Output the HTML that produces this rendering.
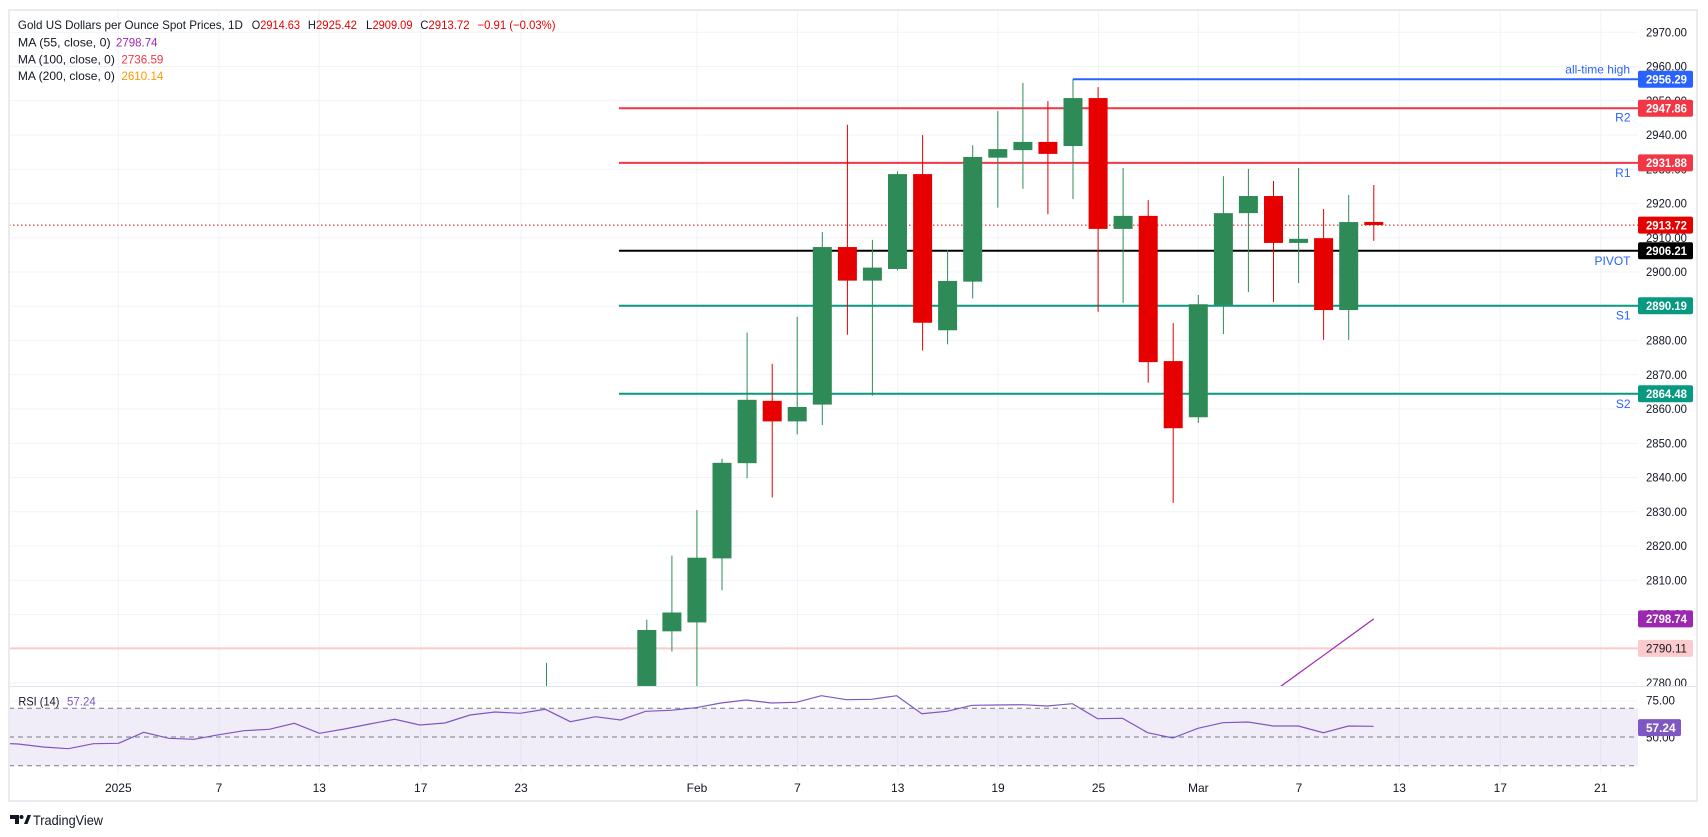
<!DOCTYPE html>
<html>
<head>
<meta charset="utf-8">
<style>
html,body{margin:0;padding:0;background:#fff;}
svg{display:block;font-family:"Liberation Sans",Arial,sans-serif;}
</style>
</head>
<body>
<svg width="1708" height="837" viewBox="0 0 1708 837" xmlns="http://www.w3.org/2000/svg">
<defs>
<clipPath id="main"><rect x="9" y="10" width="1629" height="676"/></clipPath>
<clipPath id="rsi"><rect x="9" y="687" width="1629" height="86"/></clipPath>
<clipPath id="paxis"><rect x="1638" y="10" width="60" height="676"/></clipPath>
</defs>
<rect x="0" y="0" width="1708" height="837" fill="#fff"/>

<!-- vertical gridlines -->
<g stroke="#f0f3fa" stroke-width="1">
<line x1="118.3" y1="11" x2="118.3" y2="773"/>
<line x1="219" y1="11" x2="219" y2="773"/>
<line x1="319.3" y1="11" x2="319.3" y2="773"/>
<line x1="420.7" y1="11" x2="420.7" y2="773"/>
<line x1="521" y1="11" x2="521" y2="773"/>
<line x1="697" y1="11" x2="697" y2="773"/>
<line x1="797.5" y1="11" x2="797.5" y2="773"/>
<line x1="897.7" y1="11" x2="897.7" y2="773"/>
<line x1="998" y1="11" x2="998" y2="773"/>
<line x1="1098.5" y1="11" x2="1098.5" y2="773"/>
<line x1="1198.3" y1="11" x2="1198.3" y2="773"/>
<line x1="1299" y1="11" x2="1299" y2="773"/>
<line x1="1399.3" y1="11" x2="1399.3" y2="773"/>
<line x1="1500.3" y1="11" x2="1500.3" y2="773"/>
<line x1="1600.7" y1="11" x2="1600.7" y2="773"/>
</g>
<!-- horizontal gridlines main -->
<g stroke="#f0f3fa" stroke-width="1">
<line x1="9" y1="32.3" x2="1638" y2="32.3"/>
<line x1="9" y1="66.55" x2="1638" y2="66.55"/>
<line x1="9" y1="100.8" x2="1638" y2="100.8"/>
<line x1="9" y1="135.05" x2="1638" y2="135.05"/>
<line x1="9" y1="169.3" x2="1638" y2="169.3"/>
<line x1="9" y1="203.55" x2="1638" y2="203.55"/>
<line x1="9" y1="237.8" x2="1638" y2="237.8"/>
<line x1="9" y1="272.05" x2="1638" y2="272.05"/>
<line x1="9" y1="306.3" x2="1638" y2="306.3"/>
<line x1="9" y1="340.55" x2="1638" y2="340.55"/>
<line x1="9" y1="374.8" x2="1638" y2="374.8"/>
<line x1="9" y1="409.05" x2="1638" y2="409.05"/>
<line x1="9" y1="443.3" x2="1638" y2="443.3"/>
<line x1="9" y1="477.55" x2="1638" y2="477.55"/>
<line x1="9" y1="511.8" x2="1638" y2="511.8"/>
<line x1="9" y1="546.05" x2="1638" y2="546.05"/>
<line x1="9" y1="580.3" x2="1638" y2="580.3"/>
<line x1="9" y1="614.55" x2="1638" y2="614.55"/>
<line x1="9" y1="648.8" x2="1638" y2="648.8"/>
<line x1="9" y1="683.05" x2="1638" y2="683.05"/>
<line x1="9" y1="701.1" x2="1638" y2="701.1"/>
</g>

<!-- main pane content -->
<g clip-path="url(#main)">
  <!-- pink line 2790.11 -->
  <line x1="9" y1="648.4" x2="1638" y2="648.4" stroke="#fccbcd" stroke-width="2"/>
  <!-- pivot levels -->
  <line x1="1073" y1="79.3" x2="1638" y2="79.3" stroke="#2962ff" stroke-width="2"/>
  <line x1="619" y1="108.2" x2="1638" y2="108.2" stroke="#f23645" stroke-width="2"/>
  <line x1="619" y1="162.9" x2="1638" y2="162.9" stroke="#f23645" stroke-width="2"/>
  <line x1="619" y1="250.8" x2="1638" y2="250.8" stroke="#000" stroke-width="2"/>
  <line x1="619" y1="305.7" x2="1638" y2="305.7" stroke="#089981" stroke-width="2"/>
  <line x1="619" y1="393.7" x2="1638" y2="393.7" stroke="#089981" stroke-width="2"/>
  <!-- current price dotted -->
  <line x1="9" y1="225.1" x2="1638" y2="225.1" stroke="#e60000" stroke-width="1" stroke-dasharray="1.5,2.5"/>
</g>

<!-- candles (price coordinate transform) -->
<g clip-path="url(#main)">
<g transform="matrix(1,0,0,-3.425,0,10204.55)">
<g fill="#2e8b57">
<rect x="546" y="2763" width="1" height="22.9"/><rect x="537" y="2770" width="19" height="1"/>
<rect x="646.3" y="2754" width="1" height="44.5"/><rect x="637.3" y="2758" width="19" height="37.5"/>
<rect x="671.4" y="2789.2" width="1" height="28"/><rect x="662.4" y="2795.1" width="19" height="5.5"/>
<rect x="696.4" y="2772" width="1" height="58.5"/><rect x="687.4" y="2797.7" width="19" height="18.9"/>
<rect x="721.5" y="2807.1" width="1" height="38.4"/><rect x="712.5" y="2816.4" width="19" height="27.9"/>
<rect x="746.6" y="2839.8" width="1" height="42.5"/><rect x="737.6" y="2844.2" width="19" height="18.5"/>
<rect x="796.7" y="2852.6" width="1" height="34.3"/><rect x="787.7" y="2856.4" width="19" height="4.2"/>
<rect x="821.8" y="2855.3" width="1" height="56.4"/><rect x="812.8" y="2861.3" width="19" height="46"/>
<rect x="871.9" y="2863.9" width="1" height="45.5"/><rect x="862.9" y="2897.5" width="19" height="3.8"/>
<rect x="897" y="2900.5" width="1" height="28.9"/><rect x="888" y="2900.9" width="19" height="27.7"/>
<rect x="947.1" y="2878.9" width="1" height="27.5"/><rect x="938.1" y="2883" width="19" height="14.4"/>
<rect x="972.2" y="2892.3" width="1" height="44.7"/><rect x="963.2" y="2897.2" width="19" height="36.4"/>
<rect x="997.3" y="2918.8" width="1" height="28.2"/><rect x="988.3" y="2933.4" width="19" height="2.5"/>
<rect x="1022.4" y="2924.3" width="1" height="30.9"/><rect x="1013.4" y="2935.6" width="19" height="2.4"/>
<rect x="1072.5" y="2921.3" width="1" height="35.1"/><rect x="1063.5" y="2936.8" width="19" height="14"/>
<rect x="1122.6" y="2891" width="1" height="39.4"/><rect x="1113.6" y="2912.6" width="19" height="3.8"/>
<rect x="1197.8" y="2855.9" width="1" height="37.4"/><rect x="1188.8" y="2857.6" width="19" height="33"/>
<rect x="1222.9" y="2881.9" width="1" height="46.1"/><rect x="1213.9" y="2890.4" width="19" height="26.8"/>
<rect x="1247.9" y="2894.2" width="1" height="35.9"/><rect x="1238.9" y="2917.2" width="19" height="5"/>
<rect x="1298.1" y="2896.8" width="1" height="33.6"/><rect x="1289.1" y="2908.5" width="19" height="1.2"/>
<rect x="1348.2" y="2880.2" width="1" height="42.3"/><rect x="1339.2" y="2888.9" width="19" height="25.7"/>
</g>
<g fill="#e60000">
<rect x="771.7" y="2834.2" width="1" height="39"/><rect x="762.7" y="2856.4" width="19" height="6"/>
<rect x="846.9" y="2881.7" width="1" height="61.3"/><rect x="837.9" y="2897.5" width="19" height="9.8"/>
<rect x="922.1" y="2877.1" width="1" height="62.9"/><rect x="913.1" y="2885.2" width="19" height="43.4"/>
<rect x="1047.4" y="2916.9" width="1" height="33"/><rect x="1038.4" y="2934.5" width="19" height="3.5"/>
<rect x="1097.6" y="2888.4" width="1" height="65.6"/><rect x="1088.6" y="2912.6" width="19" height="38.2"/>
<rect x="1147.7" y="2867.7" width="1" height="53.3"/><rect x="1138.7" y="2873.7" width="19" height="42.7"/>
<rect x="1172.7" y="2832.6" width="1" height="52.5"/><rect x="1163.7" y="2854.4" width="19" height="19.6"/>
<rect x="1273" y="2891.3" width="1" height="35.3"/><rect x="1264" y="2908.5" width="19" height="13.7"/>
<rect x="1323.1" y="2880.2" width="1" height="38.2"/><rect x="1314.1" y="2888.9" width="19" height="21"/>
<rect x="1373.3" y="2909.09" width="1" height="16.33"/><rect x="1364.3" y="2913.72" width="19" height="0.91"/>
</g>
</g>
<!-- MA 55 -->
<polyline points="1248.4,709.8 1273.5,691.6 1298.6,673.4 1323.6,655.3 1348.7,637.1 1373.8,618.9" fill="none" stroke="#9c27b0" stroke-width="1.2"/>
</g>

<!-- pane separator -->
<line x1="9" y1="686.5" x2="1697" y2="686.5" stroke="#e0e3eb" stroke-width="1"/>

<!-- RSI pane -->
<g clip-path="url(#rsi)">
  <rect x="9" y="708.3" width="1629" height="57.4" fill="#7e57c2" fill-opacity="0.11"/>
  <line x1="9" y1="708.3" x2="1638" y2="708.3" stroke="#787b86" stroke-width="1" stroke-dasharray="5,4"/>
  <line x1="9" y1="737" x2="1638" y2="737" stroke="#787b86" stroke-width="1" stroke-dasharray="5,4"/>
  <line x1="9" y1="765.7" x2="1638" y2="765.7" stroke="#787b86" stroke-width="1" stroke-dasharray="5,4"/>
  <polyline fill="none" stroke="#7e57c2" stroke-width="1.2" points="-6.9,743 18.2,744 43.3,747 68.4,748.7 93.5,743.7 118.6,743.3 143.7,732.3 168.8,738.3 193.9,739.3 219,734.7 244.1,730.7 269.2,729.3 294.3,723.3 319.4,733.3 344.5,729 369.6,724 394.7,719.3 419.8,725 444.9,723 470,715 495.1,712 520.2,713.3 545.3,709.3 570.4,721.7 595.5,716.7 620.6,720 645.7,711.3 670.8,710.3 695.9,707.7 721,703 746.1,700 771.2,703 796.3,702.3 821.4,695.7 846.5,699.7 871.6,699.3 896.7,695.7 921.8,713.7 946.9,711.3 972,705.3 997.1,705 1022.2,704.7 1047.3,706 1072.4,703.7 1097.5,718.7 1122.6,718.3 1147.7,732.7 1172.8,738 1197.9,728.3 1223,722.7 1248.1,722 1273.2,726 1298.3,726 1323.4,732.7 1348.5,726 1373.6,726.3"/>
</g>

<!-- legend -->
<g font-size="12" fill="#131722">
<text x="17.9" y="29" textLength="225" lengthAdjust="spacingAndGlyphs">Gold US Dollars per Ounce Spot Prices, 1D</text>
<text x="251.8" y="29" textLength="8.5" lengthAdjust="spacingAndGlyphs">O</text>
<text x="260.3" y="29" textLength="39.7" lengthAdjust="spacingAndGlyphs" fill="#e60000">2914.63</text>
<text x="307.9" y="29" textLength="8" lengthAdjust="spacingAndGlyphs">H</text>
<text x="316" y="29" textLength="41" lengthAdjust="spacingAndGlyphs" fill="#e60000">2925.42</text>
<text x="366" y="29" textLength="6.5" lengthAdjust="spacingAndGlyphs">L</text>
<text x="372.5" y="29" textLength="40" lengthAdjust="spacingAndGlyphs" fill="#e60000">2909.09</text>
<text x="420.4" y="29" textLength="8" lengthAdjust="spacingAndGlyphs">C</text>
<text x="428.4" y="29" textLength="41.2" lengthAdjust="spacingAndGlyphs" fill="#e60000">2913.72</text>
<text x="477.5" y="29" textLength="78" lengthAdjust="spacingAndGlyphs" fill="#e60000">−0.91 (−0.03%)</text>

<text x="17.9" y="46.7" textLength="92.8" lengthAdjust="spacingAndGlyphs">MA (55, close, 0)</text>
<text x="116" y="46.7" textLength="41.5" lengthAdjust="spacingAndGlyphs" fill="#9c27b0">2798.74</text>
<text x="17.9" y="63.3" textLength="97" lengthAdjust="spacingAndGlyphs">MA (100, close, 0)</text>
<text x="121.4" y="63.3" textLength="42" lengthAdjust="spacingAndGlyphs" fill="#f23645">2736.59</text>
<text x="17.9" y="80" textLength="97" lengthAdjust="spacingAndGlyphs">MA (200, close, 0)</text>
<text x="121.4" y="80" textLength="42" lengthAdjust="spacingAndGlyphs" fill="#ff9800">2610.14</text>

<text x="18.4" y="705.5" textLength="41" lengthAdjust="spacingAndGlyphs">RSI (14)</text>
<text x="67" y="705.5" textLength="28.7" lengthAdjust="spacingAndGlyphs" fill="#7e57c2">57.24</text>
</g>

<!-- level labels -->
<g font-size="12" fill="#2962ff" text-anchor="end">
<text x="1630" y="73.5">all-time high</text>
<text x="1630.5" y="121.5">R2</text>
<text x="1630.5" y="177">R1</text>
<text x="1630.5" y="265">PIVOT</text>
<text x="1630.5" y="319.5">S1</text>
<text x="1630.5" y="408">S2</text>
</g>

<!-- price axis labels -->
<g clip-path="url(#paxis)" font-size="12" fill="#131722">
<text x="1646" y="36.3" textLength="41" lengthAdjust="spacingAndGlyphs">2970.00</text>
<text x="1646" y="70.55" textLength="41" lengthAdjust="spacingAndGlyphs">2960.00</text>
<text x="1646" y="104.8" textLength="41" lengthAdjust="spacingAndGlyphs">2950.00</text>
<text x="1646" y="139.05" textLength="41" lengthAdjust="spacingAndGlyphs">2940.00</text>
<text x="1646" y="173.3" textLength="41" lengthAdjust="spacingAndGlyphs">2930.00</text>
<text x="1646" y="207.55" textLength="41" lengthAdjust="spacingAndGlyphs">2920.00</text>
<text x="1646" y="241.8" textLength="41" lengthAdjust="spacingAndGlyphs">2910.00</text>
<text x="1646" y="276.05" textLength="41" lengthAdjust="spacingAndGlyphs">2900.00</text>
<text x="1646" y="310.3" textLength="41" lengthAdjust="spacingAndGlyphs">2890.00</text>
<text x="1646" y="344.55" textLength="41" lengthAdjust="spacingAndGlyphs">2880.00</text>
<text x="1646" y="378.8" textLength="41" lengthAdjust="spacingAndGlyphs">2870.00</text>
<text x="1646" y="413.05" textLength="41" lengthAdjust="spacingAndGlyphs">2860.00</text>
<text x="1646" y="447.3" textLength="41" lengthAdjust="spacingAndGlyphs">2850.00</text>
<text x="1646" y="481.55" textLength="41" lengthAdjust="spacingAndGlyphs">2840.00</text>
<text x="1646" y="515.8" textLength="41" lengthAdjust="spacingAndGlyphs">2830.00</text>
<text x="1646" y="550.05" textLength="41" lengthAdjust="spacingAndGlyphs">2820.00</text>
<text x="1646" y="584.3" textLength="41" lengthAdjust="spacingAndGlyphs">2810.00</text>
<text x="1646" y="618.55" textLength="41" lengthAdjust="spacingAndGlyphs">2800.00</text>
<text x="1646" y="652.8" textLength="41" lengthAdjust="spacingAndGlyphs">2790.00</text>
<text x="1646" y="687.05" textLength="41" lengthAdjust="spacingAndGlyphs">2780.00</text>
</g>
<g font-size="12" fill="#131722">
<text x="1646" y="704.5" textLength="29" lengthAdjust="spacingAndGlyphs">75.00</text>
<text x="1646" y="741.5" textLength="29" lengthAdjust="spacingAndGlyphs">50.00</text>
</g>

<!-- price tags -->
<g font-size="12" font-weight="bold">
<rect x="1638" y="70.8" width="55" height="17" rx="2" fill="#2962ff"/>
<text x="1646" y="83.5" fill="#fff" textLength="41" lengthAdjust="spacingAndGlyphs">2956.29</text>
<rect x="1638" y="99.7" width="55" height="17" rx="2" fill="#f23645"/>
<text x="1646" y="112.4" fill="#fff" textLength="41" lengthAdjust="spacingAndGlyphs">2947.86</text>
<rect x="1638" y="154.4" width="55" height="17" rx="2" fill="#f23645"/>
<text x="1646" y="167.1" fill="#fff" textLength="41" lengthAdjust="spacingAndGlyphs">2931.88</text>
<rect x="1638" y="216.6" width="55" height="17" rx="2" fill="#e60000"/>
<text x="1646" y="229.3" fill="#fff" textLength="41" lengthAdjust="spacingAndGlyphs">2913.72</text>
<rect x="1638" y="242.3" width="55" height="17" rx="2" fill="#000"/>
<text x="1646" y="255" fill="#fff" textLength="41" lengthAdjust="spacingAndGlyphs">2906.21</text>
<rect x="1638" y="297.2" width="55" height="17" rx="2" fill="#089981"/>
<text x="1646" y="309.9" fill="#fff" textLength="41" lengthAdjust="spacingAndGlyphs">2890.19</text>
<rect x="1638" y="385.2" width="55" height="17" rx="2" fill="#089981"/>
<text x="1646" y="397.9" fill="#fff" textLength="41" lengthAdjust="spacingAndGlyphs">2864.48</text>
<rect x="1638" y="610.4" width="55" height="17" rx="2" fill="#9c27b0"/>
<text x="1646" y="623.1" fill="#fff" textLength="41" lengthAdjust="spacingAndGlyphs">2798.74</text>
<rect x="1638" y="639.9" width="55" height="17" rx="2" fill="#fccbcd"/>
<text x="1646" y="652.6" fill="#131722" font-weight="normal" textLength="41" lengthAdjust="spacingAndGlyphs">2790.11</text>
<rect x="1638" y="719.1" width="43" height="17" rx="2" fill="#7e57c2"/>
<text x="1646" y="731.8" fill="#fff" textLength="29.5" lengthAdjust="spacingAndGlyphs">57.24</text>
</g>

<!-- time axis labels -->
<g font-size="12" fill="#131722" text-anchor="middle">
<text x="118.3" y="792">2025</text>
<text x="219" y="792">7</text>
<text x="319.3" y="792">13</text>
<text x="420.7" y="792">17</text>
<text x="521" y="792">23</text>
<text x="697" y="792">Feb</text>
<text x="797.5" y="792">7</text>
<text x="897.7" y="792">13</text>
<text x="998" y="792">19</text>
<text x="1098.5" y="792">25</text>
<text x="1198.3" y="792">Mar</text>
<text x="1299" y="792">7</text>
<text x="1399.3" y="792">13</text>
<text x="1500.3" y="792">17</text>
<text x="1600.7" y="792">21</text>
</g>

<!-- frame -->
<rect x="9" y="10" width="1688" height="791" fill="none" stroke="#e9ebf0" stroke-width="2"/>

<!-- logo -->
<g fill="#131722">
<path d="M10 815 H19 V824 H15 V819 H10 Z"/>
<circle cx="21.5" cy="817" r="2"/>
<path d="M24 824 L27.5 815 H31 L27.5 824 Z"/>
<text x="33" y="825" font-size="14" textLength="70" lengthAdjust="spacingAndGlyphs">TradingView</text>
</g>
</svg>
</body>
</html>
